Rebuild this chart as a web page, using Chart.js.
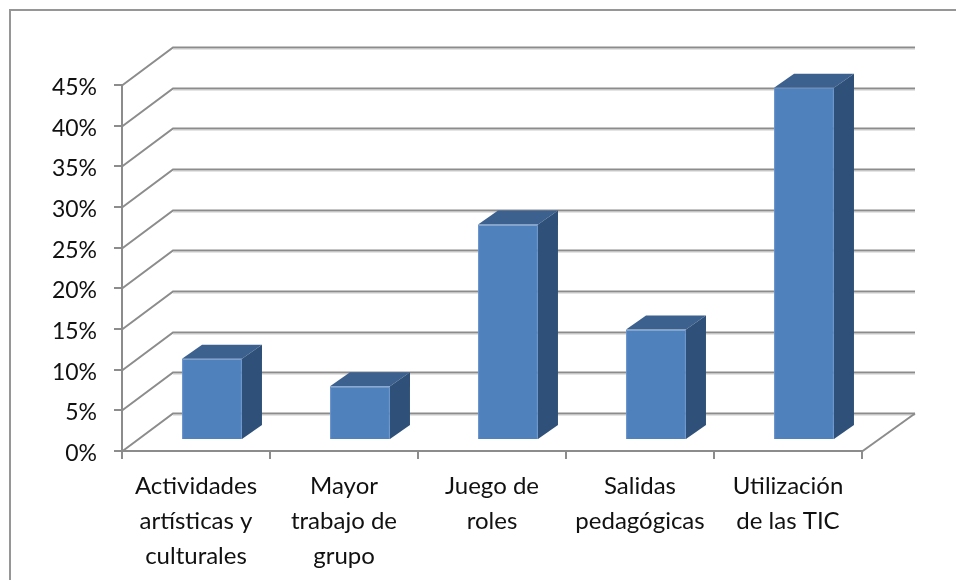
<!DOCTYPE html>
<html lang="es">
<head>
<meta charset="utf-8">
<title>Gráfico</title>
<script src="https://cdn.jsdelivr.net/npm/chart.js@4"></script>
<style>
  html, body { margin: 0; padding: 0; background: #fff; overflow: hidden; }
  canvas { display: block; }
</style>
</head>
<body>
<canvas id="grafico" width="956" height="580"></canvas>
<script>
const categorias = [
  ['Actividades', 'artísticas y', 'culturales'],
  ['Mayor', 'trabajo de', 'grupo'],
  ['Juego de', 'roles'],
  ['Salidas', 'pedagógicas'],
  ['Utilización', 'de las TIC']
];
const valores = [10, 6.6, 26.5, 13.6, 43.3];

const corLinha = '#8c8c8c';
const corSombra = '#e4e4e4';
const corFrente = '#4f81bd';
const corTopo = '#3c618f';
const corLado = '#2f5078';

// Profundidade do efeito 3D
const paredeX = 51, paredeY = 38;
const barraX = 16, barraY = 11;
const ladoX = 20, ladoY = 14;

function linha(ctx, pontos, cor, largura) {
  ctx.beginPath();
  pontos.forEach((p, i) => i ? ctx.lineTo(p[0], p[1]) : ctx.moveTo(p[0], p[1]));
  ctx.strokeStyle = cor;
  ctx.lineWidth = largura;
  ctx.stroke();
}

function face(ctx, pontos, cor) {
  ctx.beginPath();
  pontos.forEach((p, i) => i ? ctx.lineTo(p[0], p[1]) : ctx.moveTo(p[0], p[1]));
  ctx.closePath();
  ctx.fillStyle = cor;
  ctx.fill();
}

// Moldura e paredes do gráfico 3D
const paredes = {
  id: 'paredes',
  beforeDatasetsDraw(chart) {
    const { ctx, chartArea, scales } = chart;
    ctx.save();
    linha(ctx, [[10, 580], [10, 10], [956, 10]], '#969696', 2);
    const fim = chartArea.right + paredeX + 2;
    scales.y.ticks.forEach(t => {
      const y = Math.round(scales.y.getPixelForValue(t.value)) + 0.5;
      const pontos = [[chartArea.left, y], [chartArea.left + paredeX, y - paredeY], [fim, y - paredeY]];
      linha(ctx, [[chartArea.left + paredeX, y - paredeY + 2], [fim, y - paredeY + 2]], corSombra, 1);
      linha(ctx, pontos, corLinha, 2);
    });
    const base = Math.round(scales.y.getPixelForValue(0)) + 0.5;
    linha(ctx, [[chartArea.right, base], [fim, base - paredeY]], corLinha, 2);
    ctx.restore();
    // As barras ficam deslocadas para dentro do chão
    ctx.save();
    ctx.translate(barraX, -barraY);
  },
  afterDatasetsDraw(chart) {
    const { ctx } = chart;
    chart.getDatasetMeta(0).data.forEach(barra => {
      const esq = barra.x - barra.width / 2;
      const dir = barra.x + barra.width / 2;
      face(ctx, [[esq, barra.y], [esq + ladoX, barra.y - ladoY], [dir + ladoX, barra.y - ladoY], [dir, barra.y]], corTopo);
      face(ctx, [[dir, barra.y], [dir + ladoX, barra.y - ladoY], [dir + ladoX, barra.base - ladoY], [dir, barra.base]], corLado);
    });
    ctx.restore();
  }
};

new Chart(document.getElementById('grafico').getContext('2d'), {
  type: 'bar',
  data: {
    labels: categorias,
    datasets: [{
      data: valores,
      backgroundColor: corFrente,
      borderColor: '#6893ca',
      borderWidth: 1,
      barPercentage: 0.405,
      categoryPercentage: 1
    }]
  },
  options: {
    responsive: false,
    animation: false,
    layout: { padding: { top: 85, right: 94, left: 0, bottom: 0 } },
    plugins: { legend: { display: false }, tooltip: { enabled: false } },
    scales: {
      x: {
        afterFit(escala) { escala.height = 129; },
        grid: { drawOnChartArea: false, color: corLinha, lineWidth: 2, tickLength: 8 },
        border: { color: corLinha, width: 2 },
        ticks: {
          color: '#111',
          padding: 10,
          maxRotation: 0,
          autoSkip: false,
          font: { family: 'Lato', size: 24, lineHeight: '35px' }
        }
      },
      y: {
        min: 0,
        max: 45,
        afterFit(escala) { escala.width = 122; },
        grid: { drawOnChartArea: false, color: corLinha, lineWidth: 2, tickLength: 8 },
        border: { color: corLinha, width: 2 },
        ticks: {
          stepSize: 5,
          color: '#111',
          padding: 17,
          font: { family: 'Lato', size: 23, lineHeight: '5px' },
          // Linha vazia antes do texto desce o rótulo uns 2px
          callback: v => ['', v + '%']
        }
      }
    }
  },
  plugins: [paredes]
});
</script>
</body>
</html>
